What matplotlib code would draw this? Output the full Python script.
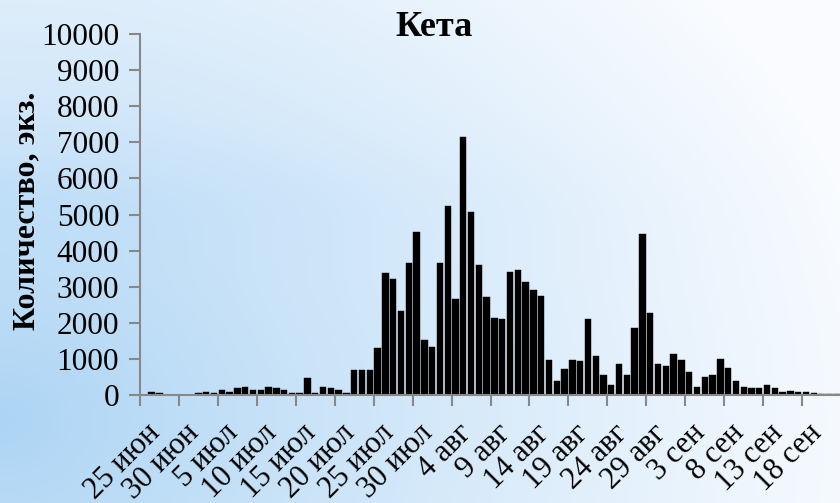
import numpy as np
import matplotlib
matplotlib.use("Agg")
import matplotlib.pyplot as plt

# daily catch, 25 Jun .. 22 Sep
days = list(range(90))
counts = [0, 85, 50, 0, 0, 0, 0, 45, 85, 50,
          150, 95, 190, 225, 125, 125, 225, 190, 150, 45,
          45, 480, 65, 225, 190, 125, 45, 690, 680, 680,
          1310, 3370, 3200, 2320, 3650, 4520, 1510, 1330, 3650, 5230,
          2670, 7140, 5060, 3590, 2710, 2140, 2110, 3410, 3470, 3130,
          2920, 2740, 980, 380, 725, 965, 935, 2100, 1075, 550,
          265, 860, 550, 1850, 4450, 2265, 860, 800, 1145, 965,
          650, 230, 505, 560, 1010, 760, 400, 230, 195, 195,
          275, 195, 90, 120, 85, 85, 55, 30, 30, 30]
tick_labels = ['25 июн', '30 июн', '5 июл', '10 июл', '15 июл', '20 июл',
               '25 июл', '30 июл', '4 авг', '9 авг', '14 авг', '19 авг',
               '24 авг', '29 авг', '3 сен', '8 сен', '13 сен', '18 сен']

plt.rcParams['font.family'] = ['Liberation Serif', 'DejaVu Serif']

fig = plt.figure(figsize=(8.4, 5.03), dpi=100)

# background gradient
H, W = 503, 840
yy, xx = np.mgrid[0:H, 0:W]
d = np.sqrt(((xx - 0) / 900.0) ** 2 + ((yy - 420) / 700.0) ** 2)
t = np.clip(d, 0, 1) ** 0.9
band = 0.06 * np.exp(-((yy - 200) / 60.0) ** 2) * (1 - xx / W)
c0 = np.array([172, 212, 244]) / 255.0
c1 = np.array([250, 252, 255]) / 255.0
img = c0[None, None, :] * (1 - t[..., None]) + c1[None, None, :] * t[..., None]
img = np.clip(img - band[..., None] * np.array([0.5, 0.25, 0.0]), 0, 1)
bg = fig.add_axes([0, 0, 1, 1], zorder=-10)
bg.imshow(img, aspect='auto', extent=[0, 1, 0, 1])
bg.axis('off')

ax = fig.add_axes([140 / 840, 1 - 395 / 503, 1 - 140 / 840, (395 - 34) / 503])
ax.patch.set_alpha(0)
ax.bar(days, counts, width=0.82, color='black', edgecolor='black', linewidth=0.3)

ax.set_ylim(0, 10000)
ax.set_yticks(range(0, 10001, 1000))
ax.set_xlim(-0.5, 89.36)
ax.set_xticks([i - 0.5 for i in range(0, 90, 5)])
ax.set_xticklabels([])
for i, lab in enumerate(tick_labels):
    ax.text(i * 5 + 0.2, -650, lab, rotation=45, ha='right', va='top',
            rotation_mode='anchor', fontsize=22, transform=ax.transData,
            clip_on=False)

for s in ['top', 'right']:
    ax.spines[s].set_visible(False)
for s in ['left', 'bottom']:
    ax.spines[s].set_color('#888888')
    ax.spines[s].set_linewidth(1.5)
ax.tick_params(axis='both', colors='#888888', width=1.5, length=8, labelsize=22.5,
               labelcolor='black', pad=7)

ax.set_ylabel('Количество, экз.', fontsize=23, fontweight='bold')
ax.yaxis.set_label_coords(-0.141, 0.51)
fig.text(434 / 840, 1 - 28 / 503, 'Кета', ha='center', va='center',
         fontsize=26, fontweight='bold')

fig.savefig('out.png', dpi=100)
